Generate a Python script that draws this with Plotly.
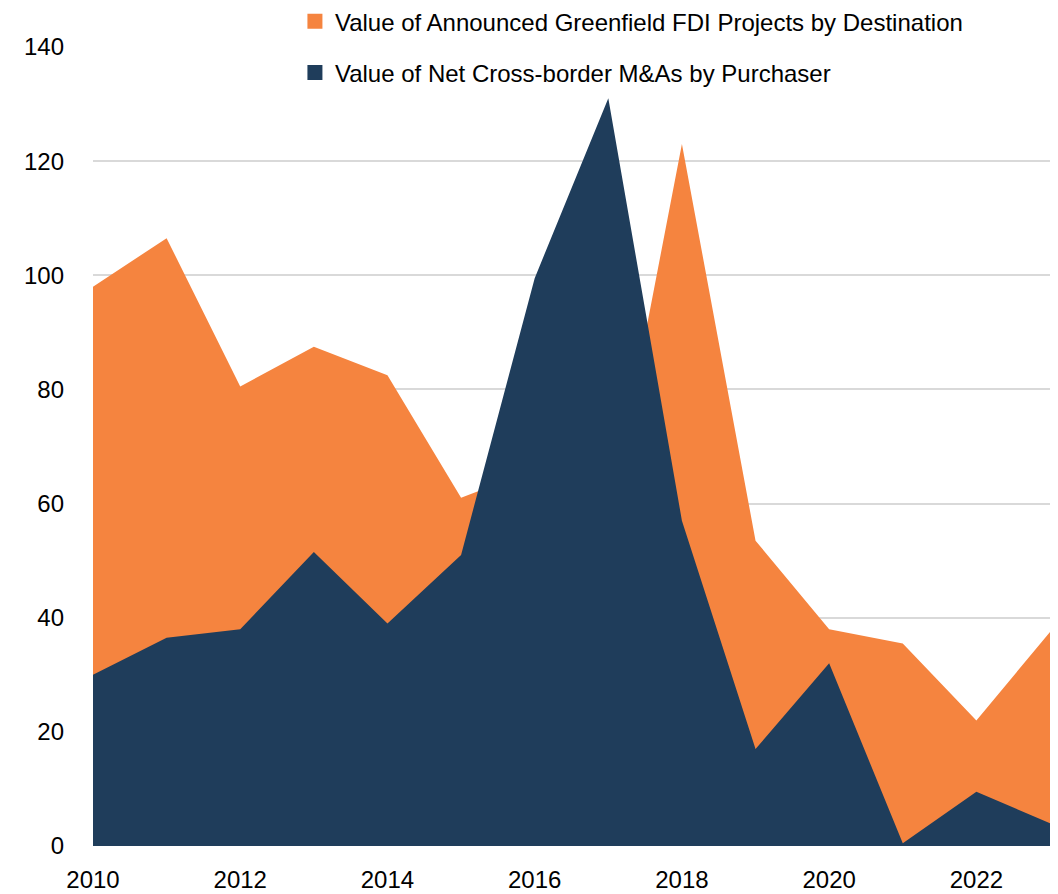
import plotly.graph_objects as go

years = list(range(2010, 2024))
greenfield = [98, 106.5, 80.5, 87.5, 82.5, 61, 66, 56, 123, 53.5, 38, 35.5, 22, 37.5]
mna = [30, 36.5, 38, 51.5, 39, 51, 99.5, 131, 57, 17, 32, 0.5, 9.5, 4]

names = ["Value of Announced Greenfield FDI Projects by Destination",
         "Value of Net Cross-border M&As by Purchaser"]
colors = ["#F5843F", "#1F3D5B"]

font_family = "Liberation Sans Narrow, Arial Narrow, Liberation Sans, Arial"
fs = 24

fig = go.Figure()
fig.add_trace(go.Scatter(x=years, y=greenfield, name=names[0], mode="none",
                         fill="tozeroy", fillcolor=colors[0], showlegend=False))
fig.add_trace(go.Scatter(x=years, y=mna, name=names[1], mode="none",
                         fill="tozeroy", fillcolor=colors[1], showlegend=False))
# legend entries (square swatches)
for i in range(2):
    fig.add_trace(go.Scatter(x=[None], y=[None], name=names[i], mode="markers",
                             marker=dict(symbol="square", size=15, color=colors[i]),
                             legendgroup=f"g{i}", showlegend=True))

# page body adds an 8px offset, so the figure is sized/margined to compensate
fig.update_layout(
    width=1042, height=886,
    margin=dict(l=85, r=0, t=39, b=48, autoexpand=False),
    plot_bgcolor="white", paper_bgcolor="white",
    font=dict(family=font_family, size=fs, color="#000000"),
    legend=dict(x=0.211, y=1.0598, xanchor="left", yanchor="top",
                bgcolor="rgba(0,0,0,0)", font=dict(size=fs),
                tracegroupgap=17, itemwidth=30),
    xaxis=dict(range=[2010, 2023], tickvals=list(range(2010, 2024, 2)),
               showgrid=False, zeroline=False, showline=False,
               ticks="", ticklabelstandoff=17),
    yaxis=dict(range=[0, 140], tickvals=list(range(0, 141, 20)),
               showgrid=True, gridcolor="#D9D9D9", gridwidth=2,
               zeroline=False, showline=False, ticks="",
               ticklabelstandoff=28),
)

fig.write_html("out.html")
